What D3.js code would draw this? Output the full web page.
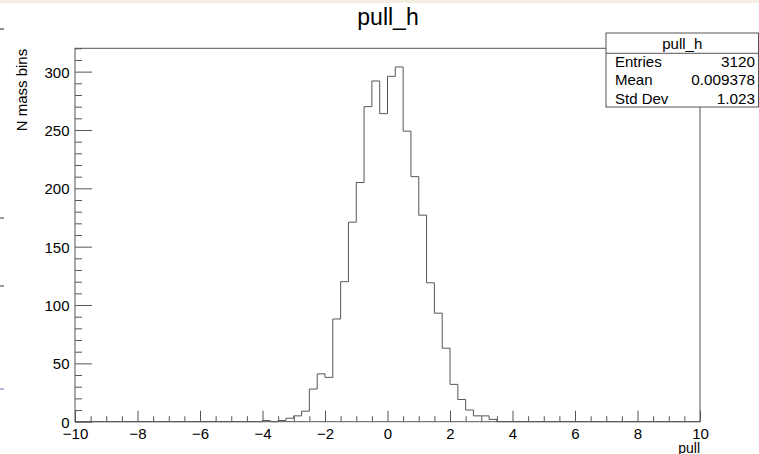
<!DOCTYPE html>
<html>
<head>
<meta charset="utf-8">
<script src="https://cdn.jsdelivr.net/npm/d3@7"></script>
<style>
  html, body { margin: 0; padding: 0; background: #fff; }
  svg { display: block; font-family: "Liberation Sans", Arial, Helvetica, sans-serif; }
</style>
</head>
<body>
<div id="chart"></div>
<script>
// Histogram pull_h: 80 bins from -10 to 10
const histTitle = "pull_h";
const binStart = -10;
const binWidth = 0.25;
const counts = [
  0, 0, 0, 0, 0, 0, 0, 0,        // -10 .. -8
  0, 0, 0, 0, 0, 0, 0, 0,        // -8 .. -6
  0, 0, 0, 0, 0, 0, 0, 0,        // -6 .. -4
  1, 0, 1, 3, 5, 9, 28, 41,      // -4 .. -2
  38, 88, 120, 171, 205, 270, 292, 264, // -2 .. 0
  296, 304, 249, 210, 177, 119, 93, 63, // 0 .. 2
  32, 19, 10, 5, 5, 2, 0, 0,     // 2 .. 4
  0, 0, 0, 0, 0, 0, 0, 0,        // 4 .. 6
  0, 0, 0, 0, 0, 0, 0, 0,        // 6 .. 8
  0, 0, 0, 0, 0, 0, 0, 0         // 8 .. 10
];
const xMajorTicks = [-10, -8, -6, -4, -2, 0, 2, 4, 6, 8, 10];
const yMajorTicks = [0, 50, 100, 150, 200, 250, 300];
const statsRows = [
  ["Entries", "3120"],
  ["Mean", "0.009378"],
  ["Std Dev", "1.023"]
];
const xLabel = "pull";
const yLabel = "N mass bins";

function createChart() {
  const width = 759, height = 454;
  const frame = { left: 75, right: 700, top: 48.3, bottom: 421.7 };
  const lineColor = "#555";

  const svg = d3.select("#chart").append("svg")
    .attr("width", width).attr("height", height);

  // beige strip on top edge
  svg.append("rect").attr("x", 0).attr("y", 0).attr("width", width).attr("height", 3)
    .attr("fill", "#f4eee1");

  // small marks on left edge
  [[29, "#444"], [218, "#555"], [286, "#555"], [389, "#8888cc"]].forEach(([y, c]) => {
    svg.append("line").attr("x1", 0).attr("x2", 4).attr("y1", y).attr("y2", y)
      .attr("stroke", c).attr("stroke-width", 1.2);
  });

  const x = d3.scaleLinear().domain([-10, 10]).range([frame.left, frame.right]);
  const y = d3.scaleLinear().domain([0, 320]).range([frame.bottom, frame.top]);

  // title
  svg.append("text").attr("x", 388).attr("y", 25).attr("text-anchor", "middle")
    .attr("font-size", 23).attr("fill", "#000").text(histTitle);

  // frame
  svg.append("rect")
    .attr("x", frame.left).attr("y", frame.top)
    .attr("width", frame.right - frame.left).attr("height", frame.bottom - frame.top)
    .attr("fill", "none").attr("stroke", lineColor).attr("stroke-width", 1);

  // histogram step line
  const pts = [[x(binStart), y(0)]];
  counts.forEach((c, i) => {
    const x0 = x(binStart + i * binWidth), x1 = x(binStart + (i + 1) * binWidth);
    pts.push([x0, y(c)], [x1, y(c)]);
  });
  pts.push([x(binStart + counts.length * binWidth), y(0)]);
  svg.append("path").attr("d", d3.line()(pts))
    .attr("fill", "none").attr("stroke", lineColor).attr("stroke-width", 1);

  // x axis: major + minor ticks pointing up into the frame
  const xMinor = d3.range(-10, 10.001, 0.5).filter(v => !xMajorTicks.includes(v));
  const gxMinor = svg.append("g").attr("transform", `translate(0,${frame.bottom})`)
    .call(d3.axisBottom(x).tickValues(xMinor).tickSize(-5.5).tickFormat(""));
  const gx = svg.append("g").attr("transform", `translate(0,${frame.bottom})`)
    .call(d3.axisBottom(x).tickValues(xMajorTicks).tickSize(-11).tickPadding(0)
      .tickFormat(d => d < 0 ? "\u2212" + Math.abs(d) : d));
  [gx, gxMinor].forEach(g => {
    g.select(".domain").remove();
    g.selectAll("line").attr("stroke", lineColor);
  });
  gx.selectAll("text").attr("y", 17.8).attr("dy", 0).attr("font-size", 15)
    .attr("fill", "#000").attr("font-family", null);

  // y axis
  const yMinor = d3.range(0, 320.001, 10).filter(v => !yMajorTicks.includes(v));
  const gyMinor = svg.append("g").attr("transform", `translate(${frame.left},0)`)
    .call(d3.axisLeft(y).tickValues(yMinor).tickSize(-7).tickFormat(""));
  const gy = svg.append("g").attr("transform", `translate(${frame.left},0)`)
    .call(d3.axisLeft(y).tickValues(yMajorTicks).tickSize(-17).tickPadding(0));
  [gy, gyMinor].forEach(g => {
    g.select(".domain").remove();
    g.selectAll("line").attr("stroke", lineColor);
  });
  gy.selectAll("text").attr("x", -5.5).attr("dy", "0.36em").attr("font-size", 15)
    .attr("fill", "#000").attr("font-family", null);

  // axis titles
  svg.append("text").attr("x", frame.right).attr("y", 452.5).attr("text-anchor", "end")
    .attr("font-size", 14).text(xLabel);
  svg.append("text").attr("transform", `translate(27,${frame.top + 0.5}) rotate(-90)`)
    .attr("text-anchor", "end").attr("font-size", 15).text(yLabel);

  // stats box
  const box = { x: 606, y: 33, w: 152.5, h: 74, sep: 53.3 };
  const sb = svg.append("g");
  sb.append("rect").attr("x", box.x).attr("y", box.y).attr("width", box.w).attr("height", box.h)
    .attr("fill", "#fff").attr("stroke", lineColor).attr("stroke-width", 1);
  sb.append("line").attr("x1", box.x).attr("x2", box.x + box.w)
    .attr("y1", box.sep).attr("y2", box.sep).attr("stroke", lineColor);
  sb.append("text").attr("x", box.x + box.w / 2).attr("y", 48.5).attr("text-anchor", "middle")
    .attr("font-size", 15).text(histTitle);
  statsRows.forEach(([k, v], i) => {
    const by = 67 + i * 18.3;
    sb.append("text").attr("x", 615).attr("y", by).attr("font-size", 15).text(k);
    sb.append("text").attr("x", 755).attr("y", by).attr("text-anchor", "end")
      .attr("font-size", 15.3).text(v);
  });
}

createChart();
</script>
</body>
</html>
